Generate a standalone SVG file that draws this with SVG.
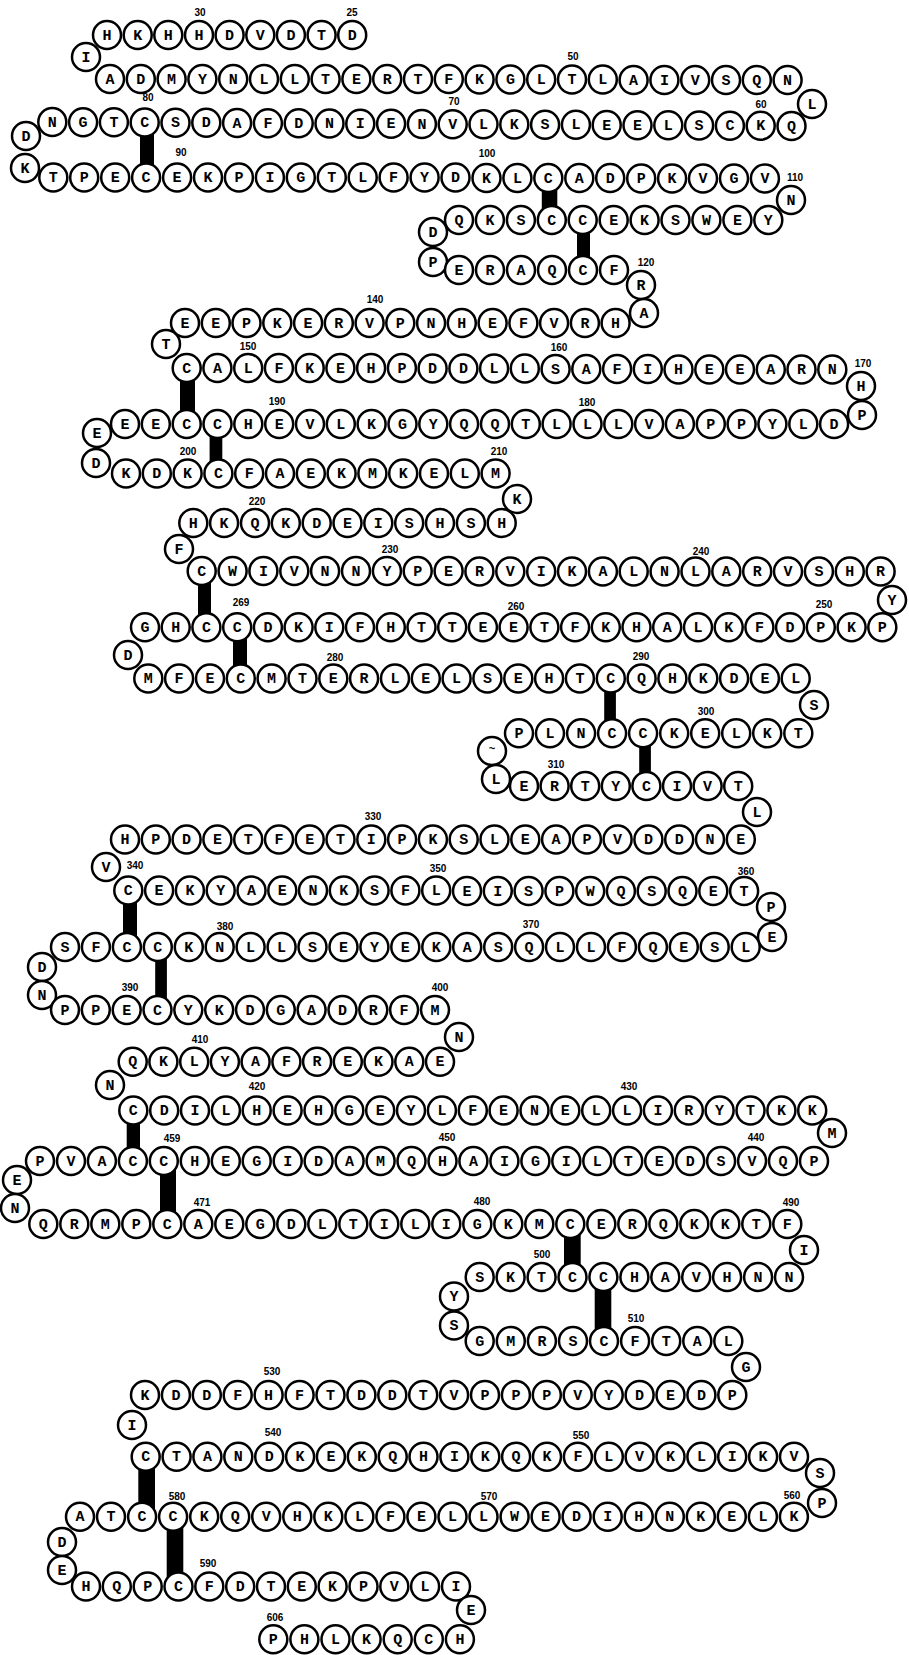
<svg xmlns="http://www.w3.org/2000/svg" width="909" height="1655" viewBox="0 0 909 1655">
<style>
#residues circle{fill:#fff;stroke:#000;stroke-width:2.5}
#residues text{font-family:"Liberation Mono","DejaVu Sans Mono",monospace;font-weight:bold;font-size:15px;text-anchor:middle;fill:#000}
#labels text{font-family:"Liberation Sans",Arial,sans-serif;font-weight:bold;font-size:10px;text-anchor:middle;fill:#000}
#connectors rect{fill:#000}
</style>
<rect width="909" height="1655" fill="#fff"/>
<g id="connectors">
<rect x="140" y="122.5" width="14" height="55"/>
<rect x="541.8" y="177.5" width="15.5" height="42.5"/>
<rect x="577" y="220" width="13" height="50"/>
<rect x="180" y="368.5" width="15" height="55.5"/>
<rect x="209.6" y="424" width="12.7" height="49.5"/>
<rect x="198" y="571" width="13" height="56.3"/>
<rect x="233" y="627.3" width="14" height="51.2"/>
<rect x="604.2" y="678.5" width="11.7" height="54.8"/>
<rect x="639.2" y="733.3" width="11.7" height="52.7"/>
<rect x="123" y="890.5" width="14" height="56.5"/>
<rect x="155.2" y="947" width="11.7" height="63"/>
<rect x="126.7" y="1110.5" width="13.3" height="50.5"/>
<rect x="160" y="1161" width="16" height="63"/>
<rect x="564" y="1224" width="16.7" height="53"/>
<rect x="594.7" y="1277" width="16.6" height="64"/>
<rect x="138.3" y="1456.7" width="16.7" height="60"/>
<rect x="166.7" y="1516.7" width="16.6" height="69.8"/>
</g>
<g id="residues">
<g id="r1_0" transform="translate(107,35)"><circle r="14"/><text y="4.5">H</text></g>
<g id="r1_1" transform="translate(137.7,35)"><circle r="14"/><text y="4.5">K</text></g>
<g id="r1_2" transform="translate(168.3,35)"><circle r="14"/><text y="4.5">H</text></g>
<g id="r1_3" transform="translate(199,35)"><circle r="14"/><text y="4.5">H</text></g>
<g id="r1_4" transform="translate(229.6,35)"><circle r="14"/><text y="4.5">D</text></g>
<g id="r1_5" transform="translate(260.3,35)"><circle r="14"/><text y="4.5">V</text></g>
<g id="r1_6" transform="translate(290.9,35)"><circle r="14"/><text y="4.5">D</text></g>
<g id="r1_7" transform="translate(321.6,35)"><circle r="14"/><text y="4.5">T</text></g>
<g id="r1_8" transform="translate(352.2,35)"><circle r="14"/><text y="4.5">D</text></g>
<g id="t1" transform="translate(86,57)"><circle r="14"/><text y="4.5">I</text></g>
<g id="r2_0" transform="translate(110,79)"><circle r="14"/><text y="4.5">A</text></g>
<g id="r2_1" transform="translate(140.8,79)"><circle r="14"/><text y="4.5">D</text></g>
<g id="r2_2" transform="translate(171.6,79)"><circle r="14"/><text y="4.5">M</text></g>
<g id="r2_3" transform="translate(202.4,79)"><circle r="14"/><text y="4.5">Y</text></g>
<g id="r2_4" transform="translate(233.2,79)"><circle r="14"/><text y="4.5">N</text></g>
<g id="r2_5" transform="translate(264,79)"><circle r="14"/><text y="4.5">L</text></g>
<g id="r2_6" transform="translate(294.8,79)"><circle r="14"/><text y="4.5">L</text></g>
<g id="r2_7" transform="translate(325.6,79)"><circle r="14"/><text y="4.5">T</text></g>
<g id="r2_8" transform="translate(356.4,79)"><circle r="14"/><text y="4.5">E</text></g>
<g id="r2_9" transform="translate(387.2,79)"><circle r="14"/><text y="4.5">R</text></g>
<g id="r2_10" transform="translate(418,79)"><circle r="14"/><text y="4.5">T</text></g>
<g id="r2_11" transform="translate(448.8,79)"><circle r="14"/><text y="4.5">F</text></g>
<g id="r2_12" transform="translate(479.6,79.5)"><circle r="14"/><text y="4.5">K</text></g>
<g id="r2_13" transform="translate(510.4,79.5)"><circle r="14"/><text y="4.5">G</text></g>
<g id="r2_14" transform="translate(541.2,79.5)"><circle r="14"/><text y="4.5">L</text></g>
<g id="r2_15" transform="translate(572,79.5)"><circle r="14"/><text y="4.5">T</text></g>
<g id="r2_16" transform="translate(602.8,79.5)"><circle r="14"/><text y="4.5">L</text></g>
<g id="r2_17" transform="translate(633.6,80)"><circle r="14"/><text y="4.5">A</text></g>
<g id="r2_18" transform="translate(664.4,80)"><circle r="14"/><text y="4.5">I</text></g>
<g id="r2_19" transform="translate(695.2,80)"><circle r="14"/><text y="4.5">V</text></g>
<g id="r2_20" transform="translate(726,80)"><circle r="14"/><text y="4.5">S</text></g>
<g id="r2_21" transform="translate(756.8,80)"><circle r="14"/><text y="4.5">Q</text></g>
<g id="r2_22" transform="translate(787.6,80)"><circle r="14"/><text y="4.5">N</text></g>
<g id="t2" transform="translate(812,104)"><circle r="14"/><text y="4.5">L</text></g>
<g id="r3_0" transform="translate(52.3,122)"><circle r="14"/><text y="4.5">N</text></g>
<g id="r3_1" transform="translate(83.1,122.2)"><circle r="14"/><text y="4.5">G</text></g>
<g id="r3_2" transform="translate(113.9,122.3)"><circle r="14"/><text y="4.5">T</text></g>
<g id="r3_3" transform="translate(144.7,122.5)"><circle r="14"/><text y="4.5">C</text></g>
<g id="r3_4" transform="translate(175.5,122.7)"><circle r="14"/><text y="4.5">S</text></g>
<g id="r3_5" transform="translate(206.3,122.8)"><circle r="14"/><text y="4.5">D</text></g>
<g id="r3_6" transform="translate(237.1,123)"><circle r="14"/><text y="4.5">A</text></g>
<g id="r3_7" transform="translate(267.9,123.2)"><circle r="14"/><text y="4.5">F</text></g>
<g id="r3_8" transform="translate(298.7,123.3)"><circle r="14"/><text y="4.5">D</text></g>
<g id="r3_9" transform="translate(329.5,123.5)"><circle r="14"/><text y="4.5">N</text></g>
<g id="r3_10" transform="translate(360.3,123.7)"><circle r="14"/><text y="4.5">I</text></g>
<g id="r3_11" transform="translate(391.1,123.8)"><circle r="14"/><text y="4.5">E</text></g>
<g id="r3_12" transform="translate(421.9,124)"><circle r="14"/><text y="4.5">N</text></g>
<g id="r3_13" transform="translate(452.7,124.2)"><circle r="14"/><text y="4.5">V</text></g>
<g id="r3_14" transform="translate(483.5,124.3)"><circle r="14"/><text y="4.5">L</text></g>
<g id="r3_15" transform="translate(514.3,124.5)"><circle r="14"/><text y="4.5">K</text></g>
<g id="r3_16" transform="translate(545.1,124.7)"><circle r="14"/><text y="4.5">S</text></g>
<g id="r3_17" transform="translate(575.9,124.8)"><circle r="14"/><text y="4.5">L</text></g>
<g id="r3_18" transform="translate(606.7,125)"><circle r="14"/><text y="4.5">E</text></g>
<g id="r3_19" transform="translate(637.5,125.2)"><circle r="14"/><text y="4.5">E</text></g>
<g id="r3_20" transform="translate(668.3,125.3)"><circle r="14"/><text y="4.5">L</text></g>
<g id="r3_21" transform="translate(699.1,125.5)"><circle r="14"/><text y="4.5">S</text></g>
<g id="r3_22" transform="translate(729.9,125.7)"><circle r="14"/><text y="4.5">C</text></g>
<g id="r3_23" transform="translate(760.7,125.8)"><circle r="14"/><text y="4.5">K</text></g>
<g id="r3_24" transform="translate(791.5,126)"><circle r="14"/><text y="4.5">Q</text></g>
<g id="t3" transform="translate(26,136)"><circle r="14"/><text y="4.5">D</text></g>
<g id="t4" transform="translate(25,168)"><circle r="14"/><text y="4.5">K</text></g>
<g id="r4_0" transform="translate(53.3,177.5)"><circle r="14"/><text y="4.5">T</text></g>
<g id="r4_1" transform="translate(84.2,177.5)"><circle r="14"/><text y="4.5">P</text></g>
<g id="r4_2" transform="translate(115.2,177.5)"><circle r="14"/><text y="4.5">E</text></g>
<g id="r4_3" transform="translate(146.1,177.5)"><circle r="14"/><text y="4.5">C</text></g>
<g id="r4_4" transform="translate(177.1,177.5)"><circle r="14"/><text y="4.5">E</text></g>
<g id="r4_5" transform="translate(208,177.5)"><circle r="14"/><text y="4.5">K</text></g>
<g id="r4_6" transform="translate(238.9,177.5)"><circle r="14"/><text y="4.5">P</text></g>
<g id="r4_7" transform="translate(269.9,177.5)"><circle r="14"/><text y="4.5">I</text></g>
<g id="r4_8" transform="translate(300.8,177.5)"><circle r="14"/><text y="4.5">G</text></g>
<g id="r4_9" transform="translate(331.8,177.5)"><circle r="14"/><text y="4.5">T</text></g>
<g id="r4_10" transform="translate(362.7,177.5)"><circle r="14"/><text y="4.5">L</text></g>
<g id="r4_11" transform="translate(393.6,177.5)"><circle r="14"/><text y="4.5">F</text></g>
<g id="r4_12" transform="translate(424.6,177.5)"><circle r="14"/><text y="4.5">Y</text></g>
<g id="r4_13" transform="translate(455.5,177.5)"><circle r="14"/><text y="4.5">D</text></g>
<g id="r4_14" transform="translate(486.5,178)"><circle r="14"/><text y="4.5">K</text></g>
<g id="r4_15" transform="translate(517.4,178)"><circle r="14"/><text y="4.5">L</text></g>
<g id="r4_16" transform="translate(548.3,178)"><circle r="14"/><text y="4.5">C</text></g>
<g id="r4_17" transform="translate(579.3,178)"><circle r="14"/><text y="4.5">A</text></g>
<g id="r4_18" transform="translate(610.2,178)"><circle r="14"/><text y="4.5">D</text></g>
<g id="r4_19" transform="translate(641.2,178.5)"><circle r="14"/><text y="4.5">P</text></g>
<g id="r4_20" transform="translate(672.1,178.5)"><circle r="14"/><text y="4.5">K</text></g>
<g id="r4_21" transform="translate(703,178.5)"><circle r="14"/><text y="4.5">V</text></g>
<g id="r4_22" transform="translate(734,178.5)"><circle r="14"/><text y="4.5">G</text></g>
<g id="r4_23" transform="translate(764.9,178.5)"><circle r="14"/><text y="4.5">V</text></g>
<g id="t5" transform="translate(791,200)"><circle r="14"/><text y="4.5">N</text></g>
<g id="r5_0" transform="translate(459,220)"><circle r="14"/><text y="4.5">Q</text></g>
<g id="r5_1" transform="translate(489.9,220)"><circle r="14"/><text y="4.5">K</text></g>
<g id="r5_2" transform="translate(520.9,220)"><circle r="14"/><text y="4.5">S</text></g>
<g id="r5_3" transform="translate(551.8,220)"><circle r="14"/><text y="4.5">C</text></g>
<g id="r5_4" transform="translate(582.7,220)"><circle r="14"/><text y="4.5">C</text></g>
<g id="r5_5" transform="translate(613.7,220)"><circle r="14"/><text y="4.5">E</text></g>
<g id="r5_6" transform="translate(644.6,220)"><circle r="14"/><text y="4.5">K</text></g>
<g id="r5_7" transform="translate(675.5,220)"><circle r="14"/><text y="4.5">S</text></g>
<g id="r5_8" transform="translate(706.4,220)"><circle r="14"/><text y="4.5">W</text></g>
<g id="r5_9" transform="translate(737.4,220)"><circle r="14"/><text y="4.5">E</text></g>
<g id="r5_10" transform="translate(768.3,220)"><circle r="14"/><text y="4.5">Y</text></g>
<g id="t6" transform="translate(433,232)"><circle r="14"/><text y="4.5">D</text></g>
<g id="t7" transform="translate(433,262)"><circle r="14"/><text y="4.5">P</text></g>
<g id="r6_0" transform="translate(459,270)"><circle r="14"/><text y="4.5">E</text></g>
<g id="r6_1" transform="translate(490,270)"><circle r="14"/><text y="4.5">R</text></g>
<g id="r6_2" transform="translate(521,270)"><circle r="14"/><text y="4.5">A</text></g>
<g id="r6_3" transform="translate(552,270)"><circle r="14"/><text y="4.5">Q</text></g>
<g id="r6_4" transform="translate(583,270)"><circle r="14"/><text y="4.5">C</text></g>
<g id="r6_5" transform="translate(614,270)"><circle r="14"/><text y="4.5">F</text></g>
<g id="t8" transform="translate(641,285)"><circle r="14"/><text y="4.5">R</text></g>
<g id="t9" transform="translate(644,313)"><circle r="14"/><text y="4.5">A</text></g>
<g id="r7_0" transform="translate(185,323)"><circle r="14"/><text y="4.5">E</text></g>
<g id="r7_1" transform="translate(215.8,323)"><circle r="14"/><text y="4.5">E</text></g>
<g id="r7_2" transform="translate(246.5,323)"><circle r="14"/><text y="4.5">P</text></g>
<g id="r7_3" transform="translate(277.3,323)"><circle r="14"/><text y="4.5">K</text></g>
<g id="r7_4" transform="translate(308.1,323)"><circle r="14"/><text y="4.5">E</text></g>
<g id="r7_5" transform="translate(338.8,323)"><circle r="14"/><text y="4.5">R</text></g>
<g id="r7_6" transform="translate(369.6,323)"><circle r="14"/><text y="4.5">V</text></g>
<g id="r7_7" transform="translate(400.3,323)"><circle r="14"/><text y="4.5">P</text></g>
<g id="r7_8" transform="translate(431.1,323)"><circle r="14"/><text y="4.5">N</text></g>
<g id="r7_9" transform="translate(461.8,323)"><circle r="14"/><text y="4.5">H</text></g>
<g id="r7_10" transform="translate(492.6,323)"><circle r="14"/><text y="4.5">E</text></g>
<g id="r7_11" transform="translate(523.4,323)"><circle r="14"/><text y="4.5">F</text></g>
<g id="r7_12" transform="translate(554.1,323)"><circle r="14"/><text y="4.5">V</text></g>
<g id="r7_13" transform="translate(584.9,323)"><circle r="14"/><text y="4.5">R</text></g>
<g id="r7_14" transform="translate(615.6,323)"><circle r="14"/><text y="4.5">H</text></g>
<g id="t10" transform="translate(166,344)"><circle r="14"/><text y="4.5">T</text></g>
<g id="r8_0" transform="translate(186.7,368)"><circle r="14"/><text y="4.5">C</text></g>
<g id="r8_1" transform="translate(217.4,368)"><circle r="14"/><text y="4.5">A</text></g>
<g id="r8_2" transform="translate(248.2,368)"><circle r="14"/><text y="4.5">L</text></g>
<g id="r8_3" transform="translate(278.9,368)"><circle r="14"/><text y="4.5">F</text></g>
<g id="r8_4" transform="translate(309.7,368)"><circle r="14"/><text y="4.5">K</text></g>
<g id="r8_5" transform="translate(340.4,368)"><circle r="14"/><text y="4.5">E</text></g>
<g id="r8_6" transform="translate(371.1,368)"><circle r="14"/><text y="4.5">H</text></g>
<g id="r8_7" transform="translate(401.9,368)"><circle r="14"/><text y="4.5">P</text></g>
<g id="r8_8" transform="translate(432.6,368.5)"><circle r="14"/><text y="4.5">D</text></g>
<g id="r8_9" transform="translate(463.4,368.5)"><circle r="14"/><text y="4.5">D</text></g>
<g id="r8_10" transform="translate(494.1,368.5)"><circle r="14"/><text y="4.5">L</text></g>
<g id="r8_11" transform="translate(524.8,368.5)"><circle r="14"/><text y="4.5">L</text></g>
<g id="r8_12" transform="translate(555.6,369)"><circle r="14"/><text y="4.5">S</text></g>
<g id="r8_13" transform="translate(586.3,369)"><circle r="14"/><text y="4.5">A</text></g>
<g id="r8_14" transform="translate(617.1,369)"><circle r="14"/><text y="4.5">F</text></g>
<g id="r8_15" transform="translate(647.8,369)"><circle r="14"/><text y="4.5">I</text></g>
<g id="r8_16" transform="translate(678.5,369.5)"><circle r="14"/><text y="4.5">H</text></g>
<g id="r8_17" transform="translate(709.3,369.5)"><circle r="14"/><text y="4.5">E</text></g>
<g id="r8_18" transform="translate(740,369.5)"><circle r="14"/><text y="4.5">E</text></g>
<g id="r8_19" transform="translate(770.8,369.5)"><circle r="14"/><text y="4.5">A</text></g>
<g id="r8_20" transform="translate(801.5,369.5)"><circle r="14"/><text y="4.5">R</text></g>
<g id="r8_21" transform="translate(832.3,369.5)"><circle r="14"/><text y="4.5">N</text></g>
<g id="t11" transform="translate(861,386)"><circle r="14"/><text y="4.5">H</text></g>
<g id="t12" transform="translate(862,415)"><circle r="14"/><text y="4.5">P</text></g>
<g id="r9_0" transform="translate(125,424)"><circle r="14"/><text y="4.5">E</text></g>
<g id="r9_1" transform="translate(155.8,424)"><circle r="14"/><text y="4.5">E</text></g>
<g id="r9_2" transform="translate(186.7,424)"><circle r="14"/><text y="4.5">C</text></g>
<g id="r9_3" transform="translate(217.5,424)"><circle r="14"/><text y="4.5">C</text></g>
<g id="r9_4" transform="translate(248.3,424)"><circle r="14"/><text y="4.5">H</text></g>
<g id="r9_5" transform="translate(279.2,424)"><circle r="14"/><text y="4.5">E</text></g>
<g id="r9_6" transform="translate(310,424)"><circle r="14"/><text y="4.5">V</text></g>
<g id="r9_7" transform="translate(340.8,424)"><circle r="14"/><text y="4.5">L</text></g>
<g id="r9_8" transform="translate(371.6,424)"><circle r="14"/><text y="4.5">K</text></g>
<g id="r9_9" transform="translate(402.5,424)"><circle r="14"/><text y="4.5">G</text></g>
<g id="r9_10" transform="translate(433.3,424)"><circle r="14"/><text y="4.5">Y</text></g>
<g id="r9_11" transform="translate(464.1,424)"><circle r="14"/><text y="4.5">Q</text></g>
<g id="r9_12" transform="translate(495,424)"><circle r="14"/><text y="4.5">Q</text></g>
<g id="r9_13" transform="translate(525.8,424)"><circle r="14"/><text y="4.5">T</text></g>
<g id="r9_14" transform="translate(556.6,424)"><circle r="14"/><text y="4.5">L</text></g>
<g id="r9_15" transform="translate(587.5,424)"><circle r="14"/><text y="4.5">L</text></g>
<g id="r9_16" transform="translate(618.3,424)"><circle r="14"/><text y="4.5">L</text></g>
<g id="r9_17" transform="translate(649.1,424)"><circle r="14"/><text y="4.5">V</text></g>
<g id="r9_18" transform="translate(679.9,424)"><circle r="14"/><text y="4.5">A</text></g>
<g id="r9_19" transform="translate(710.8,424)"><circle r="14"/><text y="4.5">P</text></g>
<g id="r9_20" transform="translate(741.6,424)"><circle r="14"/><text y="4.5">P</text></g>
<g id="r9_21" transform="translate(772.4,424)"><circle r="14"/><text y="4.5">Y</text></g>
<g id="r9_22" transform="translate(803.3,424)"><circle r="14"/><text y="4.5">L</text></g>
<g id="r9_23" transform="translate(834.1,424)"><circle r="14"/><text y="4.5">D</text></g>
<g id="t13" transform="translate(97,433)"><circle r="14"/><text y="4.5">E</text></g>
<g id="t14" transform="translate(96,463)"><circle r="14"/><text y="4.5">D</text></g>
<g id="r10_0" transform="translate(126,473.5)"><circle r="14"/><text y="4.5">K</text></g>
<g id="r10_1" transform="translate(156.8,473.5)"><circle r="14"/><text y="4.5">D</text></g>
<g id="r10_2" transform="translate(187.6,473.5)"><circle r="14"/><text y="4.5">K</text></g>
<g id="r10_3" transform="translate(218.4,473.5)"><circle r="14"/><text y="4.5">C</text></g>
<g id="r10_4" transform="translate(249.2,473.5)"><circle r="14"/><text y="4.5">F</text></g>
<g id="r10_5" transform="translate(280,473.5)"><circle r="14"/><text y="4.5">A</text></g>
<g id="r10_6" transform="translate(310.8,473.5)"><circle r="14"/><text y="4.5">E</text></g>
<g id="r10_7" transform="translate(341.6,473.5)"><circle r="14"/><text y="4.5">K</text></g>
<g id="r10_8" transform="translate(372.4,473.5)"><circle r="14"/><text y="4.5">M</text></g>
<g id="r10_9" transform="translate(403.2,473.5)"><circle r="14"/><text y="4.5">K</text></g>
<g id="r10_10" transform="translate(434,473.5)"><circle r="14"/><text y="4.5">E</text></g>
<g id="r10_11" transform="translate(464.8,473.5)"><circle r="14"/><text y="4.5">L</text></g>
<g id="r10_12" transform="translate(495.6,473.5)"><circle r="14"/><text y="4.5">M</text></g>
<g id="t15" transform="translate(517,499)"><circle r="14"/><text y="4.5">K</text></g>
<g id="r11_0" transform="translate(193.3,523)"><circle r="14"/><text y="4.5">H</text></g>
<g id="r11_1" transform="translate(224.1,523)"><circle r="14"/><text y="4.5">K</text></g>
<g id="r11_2" transform="translate(255,523)"><circle r="14"/><text y="4.5">Q</text></g>
<g id="r11_3" transform="translate(285.8,523)"><circle r="14"/><text y="4.5">K</text></g>
<g id="r11_4" transform="translate(316.7,523)"><circle r="14"/><text y="4.5">D</text></g>
<g id="r11_5" transform="translate(347.5,523)"><circle r="14"/><text y="4.5">E</text></g>
<g id="r11_6" transform="translate(378.3,523)"><circle r="14"/><text y="4.5">I</text></g>
<g id="r11_7" transform="translate(409.2,523)"><circle r="14"/><text y="4.5">S</text></g>
<g id="r11_8" transform="translate(440,523)"><circle r="14"/><text y="4.5">H</text></g>
<g id="r11_9" transform="translate(470.9,523)"><circle r="14"/><text y="4.5">S</text></g>
<g id="r11_10" transform="translate(501.7,523)"><circle r="14"/><text y="4.5">H</text></g>
<g id="t16" transform="translate(179,549)"><circle r="14"/><text y="4.5">F</text></g>
<g id="r12_0" transform="translate(201.7,571)"><circle r="14"/><text y="4.5">C</text></g>
<g id="r12_1" transform="translate(232.6,571)"><circle r="14"/><text y="4.5">W</text></g>
<g id="r12_2" transform="translate(263.4,571)"><circle r="14"/><text y="4.5">I</text></g>
<g id="r12_3" transform="translate(294.3,571)"><circle r="14"/><text y="4.5">V</text></g>
<g id="r12_4" transform="translate(325.1,571)"><circle r="14"/><text y="4.5">N</text></g>
<g id="r12_5" transform="translate(356,571)"><circle r="14"/><text y="4.5">N</text></g>
<g id="r12_6" transform="translate(386.9,571)"><circle r="14"/><text y="4.5">Y</text></g>
<g id="r12_7" transform="translate(417.7,571)"><circle r="14"/><text y="4.5">P</text></g>
<g id="r12_8" transform="translate(448.6,571)"><circle r="14"/><text y="4.5">E</text></g>
<g id="r12_9" transform="translate(479.4,571.5)"><circle r="14"/><text y="4.5">R</text></g>
<g id="r12_10" transform="translate(510.3,571.5)"><circle r="14"/><text y="4.5">V</text></g>
<g id="r12_11" transform="translate(541.2,571.5)"><circle r="14"/><text y="4.5">I</text></g>
<g id="r12_12" transform="translate(572,571.5)"><circle r="14"/><text y="4.5">K</text></g>
<g id="r12_13" transform="translate(602.9,571.5)"><circle r="14"/><text y="4.5">A</text></g>
<g id="r12_14" transform="translate(633.7,571.5)"><circle r="14"/><text y="4.5">L</text></g>
<g id="r12_15" transform="translate(664.6,571.5)"><circle r="14"/><text y="4.5">N</text></g>
<g id="r12_16" transform="translate(695.5,571.5)"><circle r="14"/><text y="4.5">L</text></g>
<g id="r12_17" transform="translate(726.3,571.5)"><circle r="14"/><text y="4.5">A</text></g>
<g id="r12_18" transform="translate(757.2,571.5)"><circle r="14"/><text y="4.5">R</text></g>
<g id="r12_19" transform="translate(788,571.5)"><circle r="14"/><text y="4.5">V</text></g>
<g id="r12_20" transform="translate(818.9,571.5)"><circle r="14"/><text y="4.5">S</text></g>
<g id="r12_21" transform="translate(849.8,571.5)"><circle r="14"/><text y="4.5">H</text></g>
<g id="r12_22" transform="translate(880.6,571.5)"><circle r="14"/><text y="4.5">R</text></g>
<g id="t17" transform="translate(892,600)"><circle r="14"/><text y="4.5">Y</text></g>
<g id="r13_0" transform="translate(145,627.3)"><circle r="14"/><text y="4.5">G</text></g>
<g id="r13_1" transform="translate(175.7,627.3)"><circle r="14"/><text y="4.5">H</text></g>
<g id="r13_2" transform="translate(206.4,627.3)"><circle r="14"/><text y="4.5">C</text></g>
<g id="r13_3" transform="translate(237.2,627.3)"><circle r="14"/><text y="4.5">C</text></g>
<g id="r13_4" transform="translate(267.9,627.3)"><circle r="14"/><text y="4.5">D</text></g>
<g id="r13_5" transform="translate(298.6,627.3)"><circle r="14"/><text y="4.5">K</text></g>
<g id="r13_6" transform="translate(329.3,627.3)"><circle r="14"/><text y="4.5">I</text></g>
<g id="r13_7" transform="translate(360,627.3)"><circle r="14"/><text y="4.5">F</text></g>
<g id="r13_8" transform="translate(390.8,627.3)"><circle r="14"/><text y="4.5">H</text></g>
<g id="r13_9" transform="translate(421.5,627.3)"><circle r="14"/><text y="4.5">T</text></g>
<g id="r13_10" transform="translate(452.2,627.3)"><circle r="14"/><text y="4.5">T</text></g>
<g id="r13_11" transform="translate(482.9,627.3)"><circle r="14"/><text y="4.5">E</text></g>
<g id="r13_12" transform="translate(513.6,627.3)"><circle r="14"/><text y="4.5">E</text></g>
<g id="r13_13" transform="translate(544.4,627.3)"><circle r="14"/><text y="4.5">T</text></g>
<g id="r13_14" transform="translate(575.1,627.3)"><circle r="14"/><text y="4.5">F</text></g>
<g id="r13_15" transform="translate(605.8,627.3)"><circle r="14"/><text y="4.5">K</text></g>
<g id="r13_16" transform="translate(636.5,627.3)"><circle r="14"/><text y="4.5">H</text></g>
<g id="r13_17" transform="translate(667.2,627.3)"><circle r="14"/><text y="4.5">A</text></g>
<g id="r13_18" transform="translate(698,627.3)"><circle r="14"/><text y="4.5">L</text></g>
<g id="r13_19" transform="translate(728.7,627.3)"><circle r="14"/><text y="4.5">K</text></g>
<g id="r13_20" transform="translate(759.4,627.3)"><circle r="14"/><text y="4.5">F</text></g>
<g id="r13_21" transform="translate(790.1,627.3)"><circle r="14"/><text y="4.5">D</text></g>
<g id="r13_22" transform="translate(820.8,627.3)"><circle r="14"/><text y="4.5">P</text></g>
<g id="r13_23" transform="translate(851.6,627.3)"><circle r="14"/><text y="4.5">K</text></g>
<g id="r13_24" transform="translate(882.3,627.3)"><circle r="14"/><text y="4.5">P</text></g>
<g id="t18" transform="translate(128,655)"><circle r="14"/><text y="4.5">D</text></g>
<g id="r14_0" transform="translate(148.3,678.5)"><circle r="14"/><text y="4.5">M</text></g>
<g id="r14_1" transform="translate(179.1,678.5)"><circle r="14"/><text y="4.5">F</text></g>
<g id="r14_2" transform="translate(210,678.5)"><circle r="14"/><text y="4.5">E</text></g>
<g id="r14_3" transform="translate(240.8,678.5)"><circle r="14"/><text y="4.5">C</text></g>
<g id="r14_4" transform="translate(271.6,678.5)"><circle r="14"/><text y="4.5">M</text></g>
<g id="r14_5" transform="translate(302.5,678.5)"><circle r="14"/><text y="4.5">T</text></g>
<g id="r14_6" transform="translate(333.3,678.5)"><circle r="14"/><text y="4.5">E</text></g>
<g id="r14_7" transform="translate(364.1,678.5)"><circle r="14"/><text y="4.5">R</text></g>
<g id="r14_8" transform="translate(395,678.5)"><circle r="14"/><text y="4.5">L</text></g>
<g id="r14_9" transform="translate(425.8,678.5)"><circle r="14"/><text y="4.5">E</text></g>
<g id="r14_10" transform="translate(456.6,678.5)"><circle r="14"/><text y="4.5">L</text></g>
<g id="r14_11" transform="translate(487.4,678.5)"><circle r="14"/><text y="4.5">S</text></g>
<g id="r14_12" transform="translate(518.3,678.5)"><circle r="14"/><text y="4.5">E</text></g>
<g id="r14_13" transform="translate(549.1,678.5)"><circle r="14"/><text y="4.5">H</text></g>
<g id="r14_14" transform="translate(579.9,678.5)"><circle r="14"/><text y="4.5">T</text></g>
<g id="r14_15" transform="translate(610.8,678.5)"><circle r="14"/><text y="4.5">C</text></g>
<g id="r14_16" transform="translate(641.6,678.5)"><circle r="14"/><text y="4.5">Q</text></g>
<g id="r14_17" transform="translate(672.4,678.5)"><circle r="14"/><text y="4.5">H</text></g>
<g id="r14_18" transform="translate(703.3,678.5)"><circle r="14"/><text y="4.5">K</text></g>
<g id="r14_19" transform="translate(734.1,678.5)"><circle r="14"/><text y="4.5">D</text></g>
<g id="r14_20" transform="translate(764.9,678.5)"><circle r="14"/><text y="4.5">E</text></g>
<g id="r14_21" transform="translate(795.7,678.5)"><circle r="14"/><text y="4.5">L</text></g>
<g id="t19" transform="translate(814,705)"><circle r="14"/><text y="4.5">S</text></g>
<g id="r15_0" transform="translate(519,733.3)"><circle r="14"/><text y="4.5">P</text></g>
<g id="r15_1" transform="translate(550,733.3)"><circle r="14"/><text y="4.5">L</text></g>
<g id="r15_2" transform="translate(581.1,733.3)"><circle r="14"/><text y="4.5">N</text></g>
<g id="r15_3" transform="translate(612.1,733.3)"><circle r="14"/><text y="4.5">C</text></g>
<g id="r15_4" transform="translate(643.1,733.3)"><circle r="14"/><text y="4.5">C</text></g>
<g id="r15_5" transform="translate(674.2,733.3)"><circle r="14"/><text y="4.5">K</text></g>
<g id="r15_6" transform="translate(705.2,733.3)"><circle r="14"/><text y="4.5">E</text></g>
<g id="r15_7" transform="translate(736.2,733.3)"><circle r="14"/><text y="4.5">L</text></g>
<g id="r15_8" transform="translate(767.2,733.3)"><circle r="14"/><text y="4.5">K</text></g>
<g id="r15_9" transform="translate(798.3,733.3)"><circle r="14"/><text y="4.5">T</text></g>
<g id="t20" transform="translate(492,751)"><circle r="14"/><text y="1" style="font-size:11px">~</text></g>
<g id="t21" transform="translate(496,779)"><circle r="14"/><text y="4.5">L</text></g>
<g id="r16_0" transform="translate(524,786)"><circle r="14"/><text y="4.5">E</text></g>
<g id="r16_1" transform="translate(554.6,786)"><circle r="14"/><text y="4.5">R</text></g>
<g id="r16_2" transform="translate(585.2,786)"><circle r="14"/><text y="4.5">T</text></g>
<g id="r16_3" transform="translate(615.8,786)"><circle r="14"/><text y="4.5">Y</text></g>
<g id="r16_4" transform="translate(646.4,786)"><circle r="14"/><text y="4.5">C</text></g>
<g id="r16_5" transform="translate(677,786)"><circle r="14"/><text y="4.5">I</text></g>
<g id="r16_6" transform="translate(707.6,786)"><circle r="14"/><text y="4.5">V</text></g>
<g id="r16_7" transform="translate(738.2,786)"><circle r="14"/><text y="4.5">T</text></g>
<g id="t22" transform="translate(757,812)"><circle r="14"/><text y="4.5">L</text></g>
<g id="r17_0" transform="translate(125,839.5)"><circle r="14"/><text y="4.5">H</text></g>
<g id="r17_1" transform="translate(155.8,839.5)"><circle r="14"/><text y="4.5">P</text></g>
<g id="r17_2" transform="translate(186.6,839.5)"><circle r="14"/><text y="4.5">D</text></g>
<g id="r17_3" transform="translate(217.4,839.5)"><circle r="14"/><text y="4.5">E</text></g>
<g id="r17_4" transform="translate(248.2,839.5)"><circle r="14"/><text y="4.5">T</text></g>
<g id="r17_5" transform="translate(279,839.5)"><circle r="14"/><text y="4.5">F</text></g>
<g id="r17_6" transform="translate(309.7,839.5)"><circle r="14"/><text y="4.5">E</text></g>
<g id="r17_7" transform="translate(340.5,839.5)"><circle r="14"/><text y="4.5">T</text></g>
<g id="r17_8" transform="translate(371.3,839.5)"><circle r="14"/><text y="4.5">I</text></g>
<g id="r17_9" transform="translate(402.1,839.5)"><circle r="14"/><text y="4.5">P</text></g>
<g id="r17_10" transform="translate(432.9,839.5)"><circle r="14"/><text y="4.5">K</text></g>
<g id="r17_11" transform="translate(463.7,839.5)"><circle r="14"/><text y="4.5">S</text></g>
<g id="r17_12" transform="translate(494.5,839.5)"><circle r="14"/><text y="4.5">L</text></g>
<g id="r17_13" transform="translate(525.3,839.5)"><circle r="14"/><text y="4.5">E</text></g>
<g id="r17_14" transform="translate(556.1,839.5)"><circle r="14"/><text y="4.5">A</text></g>
<g id="r17_15" transform="translate(586.9,839.5)"><circle r="14"/><text y="4.5">P</text></g>
<g id="r17_16" transform="translate(617.6,839.5)"><circle r="14"/><text y="4.5">V</text></g>
<g id="r17_17" transform="translate(648.4,839.5)"><circle r="14"/><text y="4.5">D</text></g>
<g id="r17_18" transform="translate(679.2,839.5)"><circle r="14"/><text y="4.5">D</text></g>
<g id="r17_19" transform="translate(710,839.5)"><circle r="14"/><text y="4.5">N</text></g>
<g id="r17_20" transform="translate(740.8,839.5)"><circle r="14"/><text y="4.5">E</text></g>
<g id="t23" transform="translate(106,867)"><circle r="14"/><text y="4.5">V</text></g>
<g id="r18_0" transform="translate(128.3,890.5)"><circle r="14"/><text y="4.5">C</text></g>
<g id="r18_1" transform="translate(159.1,890.5)"><circle r="14"/><text y="4.5">E</text></g>
<g id="r18_2" transform="translate(189.9,890.5)"><circle r="14"/><text y="4.5">K</text></g>
<g id="r18_3" transform="translate(220.7,890.5)"><circle r="14"/><text y="4.5">Y</text></g>
<g id="r18_4" transform="translate(251.5,890.5)"><circle r="14"/><text y="4.5">A</text></g>
<g id="r18_5" transform="translate(282.3,890.5)"><circle r="14"/><text y="4.5">E</text></g>
<g id="r18_6" transform="translate(313,890.5)"><circle r="14"/><text y="4.5">N</text></g>
<g id="r18_7" transform="translate(343.8,890.5)"><circle r="14"/><text y="4.5">K</text></g>
<g id="r18_8" transform="translate(374.6,890.5)"><circle r="14"/><text y="4.5">S</text></g>
<g id="r18_9" transform="translate(405.4,890.5)"><circle r="14"/><text y="4.5">F</text></g>
<g id="r18_10" transform="translate(436.2,890.5)"><circle r="14"/><text y="4.5">L</text></g>
<g id="r18_11" transform="translate(467,891)"><circle r="14"/><text y="4.5">E</text></g>
<g id="r18_12" transform="translate(497.8,891)"><circle r="14"/><text y="4.5">I</text></g>
<g id="r18_13" transform="translate(528.6,891)"><circle r="14"/><text y="4.5">S</text></g>
<g id="r18_14" transform="translate(559.4,891)"><circle r="14"/><text y="4.5">P</text></g>
<g id="r18_15" transform="translate(590.2,891)"><circle r="14"/><text y="4.5">W</text></g>
<g id="r18_16" transform="translate(620.9,891)"><circle r="14"/><text y="4.5">Q</text></g>
<g id="r18_17" transform="translate(651.7,891)"><circle r="14"/><text y="4.5">S</text></g>
<g id="r18_18" transform="translate(682.5,891)"><circle r="14"/><text y="4.5">Q</text></g>
<g id="r18_19" transform="translate(713.3,891)"><circle r="14"/><text y="4.5">E</text></g>
<g id="r18_20" transform="translate(744.1,891)"><circle r="14"/><text y="4.5">T</text></g>
<g id="t24" transform="translate(771,907)"><circle r="14"/><text y="4.5">P</text></g>
<g id="t25" transform="translate(772,937)"><circle r="14"/><text y="4.5">E</text></g>
<g id="r19_0" transform="translate(65,947)"><circle r="14"/><text y="4.5">S</text></g>
<g id="r19_1" transform="translate(95.9,947)"><circle r="14"/><text y="4.5">F</text></g>
<g id="r19_2" transform="translate(126.9,947)"><circle r="14"/><text y="4.5">C</text></g>
<g id="r19_3" transform="translate(157.8,947)"><circle r="14"/><text y="4.5">C</text></g>
<g id="r19_4" transform="translate(188.8,947)"><circle r="14"/><text y="4.5">K</text></g>
<g id="r19_5" transform="translate(219.7,947)"><circle r="14"/><text y="4.5">N</text></g>
<g id="r19_6" transform="translate(250.6,947)"><circle r="14"/><text y="4.5">L</text></g>
<g id="r19_7" transform="translate(281.6,947)"><circle r="14"/><text y="4.5">L</text></g>
<g id="r19_8" transform="translate(312.5,947)"><circle r="14"/><text y="4.5">S</text></g>
<g id="r19_9" transform="translate(343.5,947)"><circle r="14"/><text y="4.5">E</text></g>
<g id="r19_10" transform="translate(374.4,947)"><circle r="14"/><text y="4.5">Y</text></g>
<g id="r19_11" transform="translate(405.3,947)"><circle r="14"/><text y="4.5">E</text></g>
<g id="r19_12" transform="translate(436.3,947)"><circle r="14"/><text y="4.5">K</text></g>
<g id="r19_13" transform="translate(467.2,947)"><circle r="14"/><text y="4.5">A</text></g>
<g id="r19_14" transform="translate(498.2,947)"><circle r="14"/><text y="4.5">S</text></g>
<g id="r19_15" transform="translate(529.1,947)"><circle r="14"/><text y="4.5">Q</text></g>
<g id="r19_16" transform="translate(560,947)"><circle r="14"/><text y="4.5">L</text></g>
<g id="r19_17" transform="translate(591,947)"><circle r="14"/><text y="4.5">L</text></g>
<g id="r19_18" transform="translate(621.9,947)"><circle r="14"/><text y="4.5">F</text></g>
<g id="r19_19" transform="translate(652.9,947)"><circle r="14"/><text y="4.5">Q</text></g>
<g id="r19_20" transform="translate(683.8,947)"><circle r="14"/><text y="4.5">E</text></g>
<g id="r19_21" transform="translate(714.7,947)"><circle r="14"/><text y="4.5">S</text></g>
<g id="r19_22" transform="translate(745.7,947)"><circle r="14"/><text y="4.5">L</text></g>
<g id="t26" transform="translate(42,967)"><circle r="14"/><text y="4.5">D</text></g>
<g id="t27" transform="translate(42,995)"><circle r="14"/><text y="4.5">N</text></g>
<g id="r20_0" transform="translate(65,1010)"><circle r="14"/><text y="4.5">P</text></g>
<g id="r20_1" transform="translate(95.8,1010)"><circle r="14"/><text y="4.5">P</text></g>
<g id="r20_2" transform="translate(126.7,1010)"><circle r="14"/><text y="4.5">E</text></g>
<g id="r20_3" transform="translate(157.5,1010)"><circle r="14"/><text y="4.5">C</text></g>
<g id="r20_4" transform="translate(188.3,1010)"><circle r="14"/><text y="4.5">Y</text></g>
<g id="r20_5" transform="translate(219.2,1010)"><circle r="14"/><text y="4.5">K</text></g>
<g id="r20_6" transform="translate(250,1010)"><circle r="14"/><text y="4.5">D</text></g>
<g id="r20_7" transform="translate(280.8,1010)"><circle r="14"/><text y="4.5">G</text></g>
<g id="r20_8" transform="translate(311.6,1010)"><circle r="14"/><text y="4.5">A</text></g>
<g id="r20_9" transform="translate(342.5,1010)"><circle r="14"/><text y="4.5">D</text></g>
<g id="r20_10" transform="translate(373.3,1010)"><circle r="14"/><text y="4.5">R</text></g>
<g id="r20_11" transform="translate(404.1,1010)"><circle r="14"/><text y="4.5">F</text></g>
<g id="r20_12" transform="translate(435,1010)"><circle r="14"/><text y="4.5">M</text></g>
<g id="t28" transform="translate(459,1037)"><circle r="14"/><text y="4.5">N</text></g>
<g id="r21_0" transform="translate(132.7,1061.7)"><circle r="14"/><text y="4.5">Q</text></g>
<g id="r21_1" transform="translate(163.4,1061.7)"><circle r="14"/><text y="4.5">K</text></g>
<g id="r21_2" transform="translate(194.2,1061.7)"><circle r="14"/><text y="4.5">L</text></g>
<g id="r21_3" transform="translate(224.9,1061.7)"><circle r="14"/><text y="4.5">Y</text></g>
<g id="r21_4" transform="translate(255.6,1061.7)"><circle r="14"/><text y="4.5">A</text></g>
<g id="r21_5" transform="translate(286.4,1061.7)"><circle r="14"/><text y="4.5">F</text></g>
<g id="r21_6" transform="translate(317.1,1061.7)"><circle r="14"/><text y="4.5">R</text></g>
<g id="r21_7" transform="translate(347.8,1061.7)"><circle r="14"/><text y="4.5">E</text></g>
<g id="r21_8" transform="translate(378.5,1061.7)"><circle r="14"/><text y="4.5">K</text></g>
<g id="r21_9" transform="translate(409.3,1061.7)"><circle r="14"/><text y="4.5">A</text></g>
<g id="r21_10" transform="translate(440,1061.7)"><circle r="14"/><text y="4.5">E</text></g>
<g id="t29" transform="translate(110,1085)"><circle r="14"/><text y="4.5">N</text></g>
<g id="r22_0" transform="translate(133.3,1110.5)"><circle r="14"/><text y="4.5">C</text></g>
<g id="r22_1" transform="translate(164.2,1110.5)"><circle r="14"/><text y="4.5">D</text></g>
<g id="r22_2" transform="translate(195,1110.5)"><circle r="14"/><text y="4.5">I</text></g>
<g id="r22_3" transform="translate(225.9,1110.5)"><circle r="14"/><text y="4.5">L</text></g>
<g id="r22_4" transform="translate(256.7,1110.5)"><circle r="14"/><text y="4.5">H</text></g>
<g id="r22_5" transform="translate(287.6,1110.5)"><circle r="14"/><text y="4.5">E</text></g>
<g id="r22_6" transform="translate(318.5,1110.5)"><circle r="14"/><text y="4.5">H</text></g>
<g id="r22_7" transform="translate(349.3,1110.5)"><circle r="14"/><text y="4.5">G</text></g>
<g id="r22_8" transform="translate(380.2,1110.5)"><circle r="14"/><text y="4.5">E</text></g>
<g id="r22_9" transform="translate(411,1110.5)"><circle r="14"/><text y="4.5">Y</text></g>
<g id="r22_10" transform="translate(441.9,1110.5)"><circle r="14"/><text y="4.5">L</text></g>
<g id="r22_11" transform="translate(472.8,1110.5)"><circle r="14"/><text y="4.5">F</text></g>
<g id="r22_12" transform="translate(503.6,1110.5)"><circle r="14"/><text y="4.5">E</text></g>
<g id="r22_13" transform="translate(534.5,1110.5)"><circle r="14"/><text y="4.5">N</text></g>
<g id="r22_14" transform="translate(565.3,1110.5)"><circle r="14"/><text y="4.5">E</text></g>
<g id="r22_15" transform="translate(596.2,1110.5)"><circle r="14"/><text y="4.5">L</text></g>
<g id="r22_16" transform="translate(627.1,1110.5)"><circle r="14"/><text y="4.5">L</text></g>
<g id="r22_17" transform="translate(657.9,1110.5)"><circle r="14"/><text y="4.5">I</text></g>
<g id="r22_18" transform="translate(688.8,1110.5)"><circle r="14"/><text y="4.5">R</text></g>
<g id="r22_19" transform="translate(719.6,1110.5)"><circle r="14"/><text y="4.5">Y</text></g>
<g id="r22_20" transform="translate(750.5,1110.5)"><circle r="14"/><text y="4.5">T</text></g>
<g id="r22_21" transform="translate(781.4,1110.5)"><circle r="14"/><text y="4.5">K</text></g>
<g id="r22_22" transform="translate(812.2,1110.5)"><circle r="14"/><text y="4.5">K</text></g>
<g id="t30" transform="translate(832,1133)"><circle r="14"/><text y="4.5">M</text></g>
<g id="r23_0" transform="translate(40,1161)"><circle r="14"/><text y="4.5">P</text></g>
<g id="r23_1" transform="translate(71,1161)"><circle r="14"/><text y="4.5">V</text></g>
<g id="r23_2" transform="translate(101.9,1161)"><circle r="14"/><text y="4.5">A</text></g>
<g id="r23_3" transform="translate(132.9,1161)"><circle r="14"/><text y="4.5">C</text></g>
<g id="r23_4" transform="translate(163.8,1161)"><circle r="14"/><text y="4.5">C</text></g>
<g id="r23_5" transform="translate(194.8,1161)"><circle r="14"/><text y="4.5">H</text></g>
<g id="r23_6" transform="translate(225.8,1161)"><circle r="14"/><text y="4.5">E</text></g>
<g id="r23_7" transform="translate(256.7,1161)"><circle r="14"/><text y="4.5">G</text></g>
<g id="r23_8" transform="translate(287.7,1161)"><circle r="14"/><text y="4.5">I</text></g>
<g id="r23_9" transform="translate(318.6,1161)"><circle r="14"/><text y="4.5">D</text></g>
<g id="r23_10" transform="translate(349.6,1161)"><circle r="14"/><text y="4.5">A</text></g>
<g id="r23_11" transform="translate(380.6,1161)"><circle r="14"/><text y="4.5">M</text></g>
<g id="r23_12" transform="translate(411.5,1161)"><circle r="14"/><text y="4.5">Q</text></g>
<g id="r23_13" transform="translate(442.5,1161)"><circle r="14"/><text y="4.5">H</text></g>
<g id="r23_14" transform="translate(473.4,1161)"><circle r="14"/><text y="4.5">A</text></g>
<g id="r23_15" transform="translate(504.4,1161)"><circle r="14"/><text y="4.5">I</text></g>
<g id="r23_16" transform="translate(535.4,1161)"><circle r="14"/><text y="4.5">G</text></g>
<g id="r23_17" transform="translate(566.3,1161)"><circle r="14"/><text y="4.5">I</text></g>
<g id="r23_18" transform="translate(597.3,1161)"><circle r="14"/><text y="4.5">L</text></g>
<g id="r23_19" transform="translate(628.2,1161)"><circle r="14"/><text y="4.5">T</text></g>
<g id="r23_20" transform="translate(659.2,1161)"><circle r="14"/><text y="4.5">E</text></g>
<g id="r23_21" transform="translate(690.2,1161)"><circle r="14"/><text y="4.5">D</text></g>
<g id="r23_22" transform="translate(721.1,1161)"><circle r="14"/><text y="4.5">S</text></g>
<g id="r23_23" transform="translate(752.1,1161)"><circle r="14"/><text y="4.5">V</text></g>
<g id="r23_24" transform="translate(783,1161)"><circle r="14"/><text y="4.5">Q</text></g>
<g id="r23_25" transform="translate(814,1161)"><circle r="14"/><text y="4.5">P</text></g>
<g id="t31" transform="translate(17,1180)"><circle r="14"/><text y="4.5">E</text></g>
<g id="t32" transform="translate(15,1208)"><circle r="14"/><text y="4.5">N</text></g>
<g id="r24_0" transform="translate(43.3,1224)"><circle r="14"/><text y="4.5">Q</text></g>
<g id="r24_1" transform="translate(74.3,1224)"><circle r="14"/><text y="4.5">R</text></g>
<g id="r24_2" transform="translate(105.3,1224)"><circle r="14"/><text y="4.5">M</text></g>
<g id="r24_3" transform="translate(136.3,1224)"><circle r="14"/><text y="4.5">P</text></g>
<g id="r24_4" transform="translate(167.3,1224)"><circle r="14"/><text y="4.5">C</text></g>
<g id="r24_5" transform="translate(198.3,1224)"><circle r="14"/><text y="4.5">A</text></g>
<g id="r24_6" transform="translate(229.3,1224)"><circle r="14"/><text y="4.5">E</text></g>
<g id="r24_7" transform="translate(260.3,1224)"><circle r="14"/><text y="4.5">G</text></g>
<g id="r24_8" transform="translate(291.3,1224)"><circle r="14"/><text y="4.5">D</text></g>
<g id="r24_9" transform="translate(322.3,1224)"><circle r="14"/><text y="4.5">L</text></g>
<g id="r24_10" transform="translate(353.3,1224)"><circle r="14"/><text y="4.5">T</text></g>
<g id="r24_11" transform="translate(384.3,1224)"><circle r="14"/><text y="4.5">I</text></g>
<g id="r24_12" transform="translate(415.3,1224)"><circle r="14"/><text y="4.5">L</text></g>
<g id="r24_13" transform="translate(446.3,1224)"><circle r="14"/><text y="4.5">I</text></g>
<g id="r24_14" transform="translate(477.3,1224)"><circle r="14"/><text y="4.5">G</text></g>
<g id="r24_15" transform="translate(508.3,1224)"><circle r="14"/><text y="4.5">K</text></g>
<g id="r24_16" transform="translate(539.3,1224)"><circle r="14"/><text y="4.5">M</text></g>
<g id="r24_17" transform="translate(570.3,1224)"><circle r="14"/><text y="4.5">C</text></g>
<g id="r24_18" transform="translate(601.3,1224)"><circle r="14"/><text y="4.5">E</text></g>
<g id="r24_19" transform="translate(632.3,1224)"><circle r="14"/><text y="4.5">R</text></g>
<g id="r24_20" transform="translate(663.3,1224)"><circle r="14"/><text y="4.5">Q</text></g>
<g id="r24_21" transform="translate(694.3,1224)"><circle r="14"/><text y="4.5">K</text></g>
<g id="r24_22" transform="translate(725.3,1224)"><circle r="14"/><text y="4.5">K</text></g>
<g id="r24_23" transform="translate(756.3,1224)"><circle r="14"/><text y="4.5">T</text></g>
<g id="r24_24" transform="translate(787.3,1224)"><circle r="14"/><text y="4.5">F</text></g>
<g id="t33" transform="translate(804,1250)"><circle r="14"/><text y="4.5">I</text></g>
<g id="r25_0" transform="translate(479.7,1277)"><circle r="14"/><text y="4.5">S</text></g>
<g id="r25_1" transform="translate(510.6,1277)"><circle r="14"/><text y="4.5">K</text></g>
<g id="r25_2" transform="translate(541.6,1277)"><circle r="14"/><text y="4.5">T</text></g>
<g id="r25_3" transform="translate(572.5,1277)"><circle r="14"/><text y="4.5">C</text></g>
<g id="r25_4" transform="translate(603.4,1277)"><circle r="14"/><text y="4.5">C</text></g>
<g id="r25_5" transform="translate(634.4,1277)"><circle r="14"/><text y="4.5">H</text></g>
<g id="r25_6" transform="translate(665.3,1277)"><circle r="14"/><text y="4.5">A</text></g>
<g id="r25_7" transform="translate(696.2,1277)"><circle r="14"/><text y="4.5">V</text></g>
<g id="r25_8" transform="translate(727.1,1277)"><circle r="14"/><text y="4.5">H</text></g>
<g id="r25_9" transform="translate(758.1,1277)"><circle r="14"/><text y="4.5">N</text></g>
<g id="r25_10" transform="translate(789,1277)"><circle r="14"/><text y="4.5">N</text></g>
<g id="t34" transform="translate(454,1296.5)"><circle r="14"/><text y="4.5">Y</text></g>
<g id="t35" transform="translate(454,1325.5)"><circle r="14"/><text y="4.5">S</text></g>
<g id="r26_0" transform="translate(479.7,1341)"><circle r="14"/><text y="4.5">G</text></g>
<g id="r26_1" transform="translate(510.8,1341)"><circle r="14"/><text y="4.5">M</text></g>
<g id="r26_2" transform="translate(541.9,1341)"><circle r="14"/><text y="4.5">R</text></g>
<g id="r26_3" transform="translate(573,1341)"><circle r="14"/><text y="4.5">S</text></g>
<g id="r26_4" transform="translate(604,1341)"><circle r="14"/><text y="4.5">C</text></g>
<g id="r26_5" transform="translate(635.1,1341)"><circle r="14"/><text y="4.5">F</text></g>
<g id="r26_6" transform="translate(666.2,1341)"><circle r="14"/><text y="4.5">T</text></g>
<g id="r26_7" transform="translate(697.3,1341)"><circle r="14"/><text y="4.5">A</text></g>
<g id="r26_8" transform="translate(728.3,1341)"><circle r="14"/><text y="4.5">L</text></g>
<g id="t36" transform="translate(746,1367)"><circle r="14"/><text y="4.5">G</text></g>
<g id="r27_0" transform="translate(145,1395)"><circle r="14"/><text y="4.5">K</text></g>
<g id="r27_1" transform="translate(175.9,1395)"><circle r="14"/><text y="4.5">D</text></g>
<g id="r27_2" transform="translate(206.8,1395)"><circle r="14"/><text y="4.5">D</text></g>
<g id="r27_3" transform="translate(237.7,1395)"><circle r="14"/><text y="4.5">F</text></g>
<g id="r27_4" transform="translate(268.6,1395)"><circle r="14"/><text y="4.5">H</text></g>
<g id="r27_5" transform="translate(299.6,1395)"><circle r="14"/><text y="4.5">F</text></g>
<g id="r27_6" transform="translate(330.5,1395)"><circle r="14"/><text y="4.5">T</text></g>
<g id="r27_7" transform="translate(361.4,1395)"><circle r="14"/><text y="4.5">D</text></g>
<g id="r27_8" transform="translate(392.3,1395)"><circle r="14"/><text y="4.5">D</text></g>
<g id="r27_9" transform="translate(423.2,1395)"><circle r="14"/><text y="4.5">T</text></g>
<g id="r27_10" transform="translate(454.1,1395)"><circle r="14"/><text y="4.5">V</text></g>
<g id="r27_11" transform="translate(485,1395)"><circle r="14"/><text y="4.5">P</text></g>
<g id="r27_12" transform="translate(515.9,1395)"><circle r="14"/><text y="4.5">P</text></g>
<g id="r27_13" transform="translate(546.8,1395)"><circle r="14"/><text y="4.5">P</text></g>
<g id="r27_14" transform="translate(577.7,1395)"><circle r="14"/><text y="4.5">V</text></g>
<g id="r27_15" transform="translate(608.7,1395)"><circle r="14"/><text y="4.5">Y</text></g>
<g id="r27_16" transform="translate(639.6,1395)"><circle r="14"/><text y="4.5">D</text></g>
<g id="r27_17" transform="translate(670.5,1395)"><circle r="14"/><text y="4.5">E</text></g>
<g id="r27_18" transform="translate(701.4,1395)"><circle r="14"/><text y="4.5">D</text></g>
<g id="r27_19" transform="translate(732.3,1395)"><circle r="14"/><text y="4.5">P</text></g>
<g id="t37" transform="translate(132,1425)"><circle r="14"/><text y="4.5">I</text></g>
<g id="r28_0" transform="translate(145.7,1456.7)"><circle r="14"/><text y="4.5">C</text></g>
<g id="r28_1" transform="translate(176.6,1456.7)"><circle r="14"/><text y="4.5">T</text></g>
<g id="r28_2" transform="translate(207.4,1456.7)"><circle r="14"/><text y="4.5">A</text></g>
<g id="r28_3" transform="translate(238.3,1456.7)"><circle r="14"/><text y="4.5">N</text></g>
<g id="r28_4" transform="translate(269.2,1456.7)"><circle r="14"/><text y="4.5">D</text></g>
<g id="r28_5" transform="translate(300.1,1456.7)"><circle r="14"/><text y="4.5">K</text></g>
<g id="r28_6" transform="translate(330.9,1456.7)"><circle r="14"/><text y="4.5">E</text></g>
<g id="r28_7" transform="translate(361.8,1456.7)"><circle r="14"/><text y="4.5">K</text></g>
<g id="r28_8" transform="translate(392.7,1456.7)"><circle r="14"/><text y="4.5">Q</text></g>
<g id="r28_9" transform="translate(423.5,1456.7)"><circle r="14"/><text y="4.5">H</text></g>
<g id="r28_10" transform="translate(454.4,1456.7)"><circle r="14"/><text y="4.5">I</text></g>
<g id="r28_11" transform="translate(485.3,1456.7)"><circle r="14"/><text y="4.5">K</text></g>
<g id="r28_12" transform="translate(516.1,1456.7)"><circle r="14"/><text y="4.5">Q</text></g>
<g id="r28_13" transform="translate(547,1456.7)"><circle r="14"/><text y="4.5">K</text></g>
<g id="r28_14" transform="translate(577.9,1456.7)"><circle r="14"/><text y="4.5">F</text></g>
<g id="r28_15" transform="translate(608.8,1456.7)"><circle r="14"/><text y="4.5">L</text></g>
<g id="r28_16" transform="translate(639.6,1456.7)"><circle r="14"/><text y="4.5">V</text></g>
<g id="r28_17" transform="translate(670.5,1456.7)"><circle r="14"/><text y="4.5">K</text></g>
<g id="r28_18" transform="translate(701.4,1456.7)"><circle r="14"/><text y="4.5">L</text></g>
<g id="r28_19" transform="translate(732.2,1456.7)"><circle r="14"/><text y="4.5">I</text></g>
<g id="r28_20" transform="translate(763.1,1456.7)"><circle r="14"/><text y="4.5">K</text></g>
<g id="r28_21" transform="translate(794,1456.7)"><circle r="14"/><text y="4.5">V</text></g>
<g id="t38" transform="translate(820,1473)"><circle r="14"/><text y="4.5">S</text></g>
<g id="t39" transform="translate(822,1503)"><circle r="14"/><text y="4.5">P</text></g>
<g id="r29_0" transform="translate(80,1516.7)"><circle r="14"/><text y="4.5">A</text></g>
<g id="r29_1" transform="translate(111,1516.7)"><circle r="14"/><text y="4.5">T</text></g>
<g id="r29_2" transform="translate(142.1,1516.7)"><circle r="14"/><text y="4.5">C</text></g>
<g id="r29_3" transform="translate(173.1,1516.7)"><circle r="14"/><text y="4.5">C</text></g>
<g id="r29_4" transform="translate(204.2,1516.7)"><circle r="14"/><text y="4.5">K</text></g>
<g id="r29_5" transform="translate(235.2,1516.7)"><circle r="14"/><text y="4.5">Q</text></g>
<g id="r29_6" transform="translate(266.2,1516.7)"><circle r="14"/><text y="4.5">V</text></g>
<g id="r29_7" transform="translate(297.3,1516.7)"><circle r="14"/><text y="4.5">H</text></g>
<g id="r29_8" transform="translate(328.3,1516.7)"><circle r="14"/><text y="4.5">K</text></g>
<g id="r29_9" transform="translate(359.4,1516.7)"><circle r="14"/><text y="4.5">L</text></g>
<g id="r29_10" transform="translate(390.4,1516.7)"><circle r="14"/><text y="4.5">F</text></g>
<g id="r29_11" transform="translate(421.4,1516.7)"><circle r="14"/><text y="4.5">E</text></g>
<g id="r29_12" transform="translate(452.5,1516.7)"><circle r="14"/><text y="4.5">L</text></g>
<g id="r29_13" transform="translate(483.5,1516.7)"><circle r="14"/><text y="4.5">L</text></g>
<g id="r29_14" transform="translate(514.6,1516.7)"><circle r="14"/><text y="4.5">W</text></g>
<g id="r29_15" transform="translate(545.6,1516.7)"><circle r="14"/><text y="4.5">E</text></g>
<g id="r29_16" transform="translate(576.6,1516.7)"><circle r="14"/><text y="4.5">D</text></g>
<g id="r29_17" transform="translate(607.7,1516.7)"><circle r="14"/><text y="4.5">I</text></g>
<g id="r29_18" transform="translate(638.7,1516.7)"><circle r="14"/><text y="4.5">H</text></g>
<g id="r29_19" transform="translate(669.8,1516.7)"><circle r="14"/><text y="4.5">N</text></g>
<g id="r29_20" transform="translate(700.8,1516.7)"><circle r="14"/><text y="4.5">K</text></g>
<g id="r29_21" transform="translate(731.8,1516.7)"><circle r="14"/><text y="4.5">E</text></g>
<g id="r29_22" transform="translate(762.9,1516.7)"><circle r="14"/><text y="4.5">L</text></g>
<g id="r29_23" transform="translate(793.9,1516.7)"><circle r="14"/><text y="4.5">K</text></g>
<g id="t40" transform="translate(62,1542)"><circle r="14"/><text y="4.5">D</text></g>
<g id="t41" transform="translate(62,1570)"><circle r="14"/><text y="4.5">E</text></g>
<g id="r30_0" transform="translate(86,1586.5)"><circle r="14"/><text y="4.5">H</text></g>
<g id="r30_1" transform="translate(116.8,1586.5)"><circle r="14"/><text y="4.5">Q</text></g>
<g id="r30_2" transform="translate(147.7,1586.5)"><circle r="14"/><text y="4.5">P</text></g>
<g id="r30_3" transform="translate(178.5,1586.5)"><circle r="14"/><text y="4.5">C</text></g>
<g id="r30_4" transform="translate(209.3,1586.5)"><circle r="14"/><text y="4.5">F</text></g>
<g id="r30_5" transform="translate(240.2,1586.5)"><circle r="14"/><text y="4.5">D</text></g>
<g id="r30_6" transform="translate(271,1586.5)"><circle r="14"/><text y="4.5">T</text></g>
<g id="r30_7" transform="translate(301.8,1586.5)"><circle r="14"/><text y="4.5">E</text></g>
<g id="r30_8" transform="translate(332.6,1586.5)"><circle r="14"/><text y="4.5">K</text></g>
<g id="r30_9" transform="translate(363.5,1586.5)"><circle r="14"/><text y="4.5">P</text></g>
<g id="r30_10" transform="translate(394.3,1586.5)"><circle r="14"/><text y="4.5">V</text></g>
<g id="r30_11" transform="translate(425.1,1586.5)"><circle r="14"/><text y="4.5">L</text></g>
<g id="r30_12" transform="translate(456,1586.5)"><circle r="14"/><text y="4.5">I</text></g>
<g id="t42" transform="translate(471,1610)"><circle r="14"/><text y="4.5">E</text></g>
<g id="r31_0" transform="translate(273.3,1639.3)"><circle r="14"/><text y="4.5">P</text></g>
<g id="r31_1" transform="translate(304.4,1639.3)"><circle r="14"/><text y="4.5">H</text></g>
<g id="r31_2" transform="translate(335.5,1639.3)"><circle r="14"/><text y="4.5">L</text></g>
<g id="r31_3" transform="translate(366.6,1639.3)"><circle r="14"/><text y="4.5">K</text></g>
<g id="r31_4" transform="translate(397.7,1639.3)"><circle r="14"/><text y="4.5">Q</text></g>
<g id="r31_5" transform="translate(428.8,1639.3)"><circle r="14"/><text y="4.5">C</text></g>
<g id="r31_6" transform="translate(459.9,1639.3)"><circle r="14"/><text y="4.5">H</text></g>
</g>
<g id="labels">
<text x="200" y="16">30</text>
<text x="352" y="16">25</text>
<text x="573" y="60">50</text>
<text x="148" y="101">80</text>
<text x="454" y="105">70</text>
<text x="761" y="108">60</text>
<text x="181" y="156">90</text>
<text x="487" y="157">100</text>
<text x="795" y="181">110</text>
<text x="646" y="266">120</text>
<text x="375" y="303">140</text>
<text x="248" y="350">150</text>
<text x="559" y="351">160</text>
<text x="863" y="367">170</text>
<text x="277" y="405">190</text>
<text x="587" y="406">180</text>
<text x="188" y="455">200</text>
<text x="499" y="455">210</text>
<text x="257" y="505">220</text>
<text x="390" y="553">230</text>
<text x="701" y="555">240</text>
<text x="241" y="606">269</text>
<text x="516" y="610">260</text>
<text x="824" y="608">250</text>
<text x="335" y="661">280</text>
<text x="641" y="660">290</text>
<text x="706" y="715">300</text>
<text x="556" y="768">310</text>
<text x="373" y="820">330</text>
<text x="135" y="869">340</text>
<text x="438" y="872">350</text>
<text x="746" y="875">360</text>
<text x="225" y="930">380</text>
<text x="531" y="928">370</text>
<text x="130" y="991">390</text>
<text x="440" y="991">400</text>
<text x="200" y="1043">410</text>
<text x="257" y="1090">420</text>
<text x="629" y="1090">430</text>
<text x="172" y="1142">459</text>
<text x="447" y="1141">450</text>
<text x="756" y="1141">440</text>
<text x="202" y="1206">471</text>
<text x="482" y="1205">480</text>
<text x="791" y="1206">490</text>
<text x="542" y="1258">500</text>
<text x="636" y="1322">510</text>
<text x="272" y="1375">530</text>
<text x="273" y="1436">540</text>
<text x="581" y="1439">550</text>
<text x="177" y="1500">580</text>
<text x="489" y="1500">570</text>
<text x="792" y="1499">560</text>
<text x="208" y="1567">590</text>
<text x="275" y="1621">606</text>
</g>
</svg>
